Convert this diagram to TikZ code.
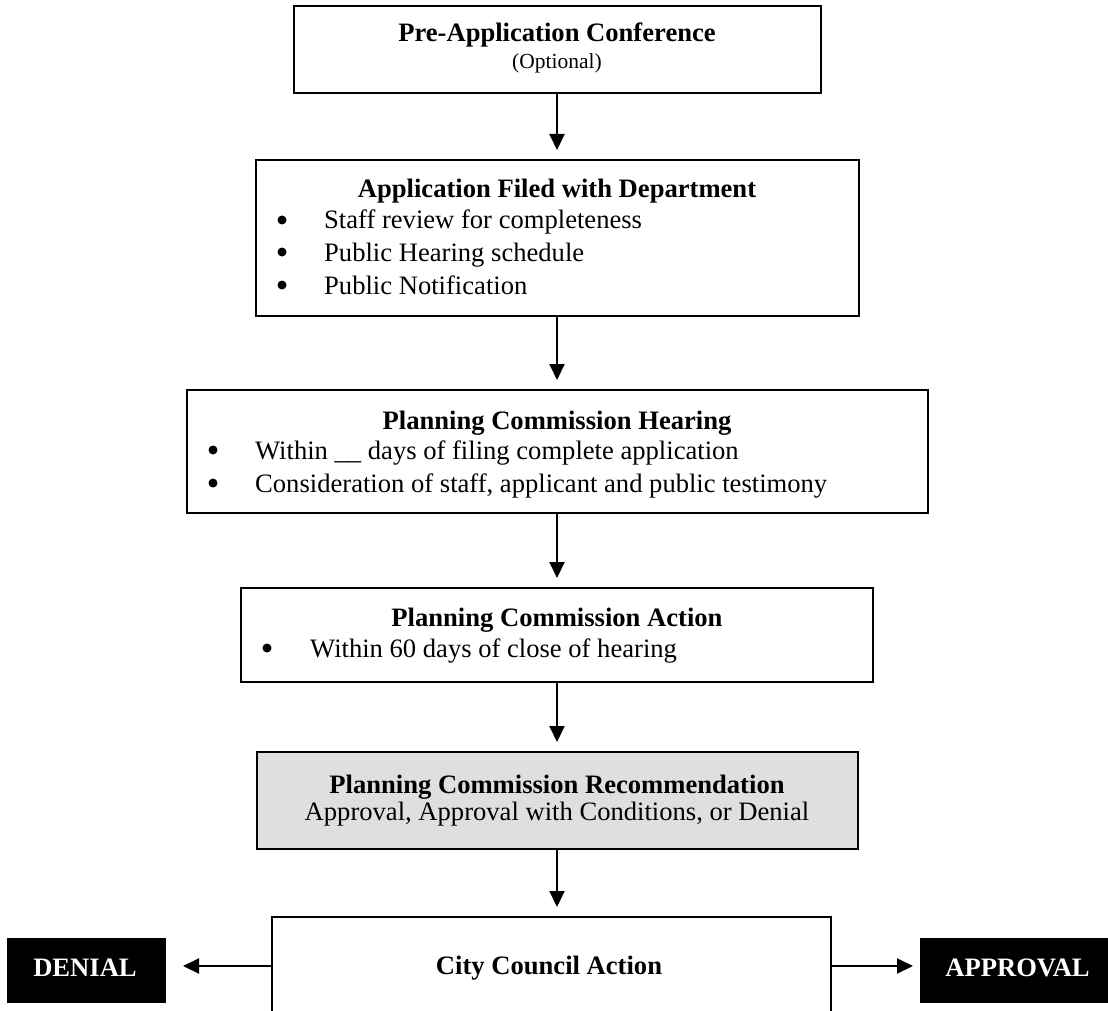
\documentclass[tikz,border=0pt]{standalone}
\usepackage{fontspec}
\setmainfont{Liberation Serif}
\usetikzlibrary{arrows.meta}
\definecolor{boxgray}{HTML}{DFDFDF}
\tikzset{
  box/.style={draw=black, line width=2pt, inner sep=0pt, outer sep=0pt},
  blackbox/.style={fill=black, draw=black, inner sep=0pt, outer sep=0pt},
  arr/.style={line width=2pt, -{Triangle[width=15pt,length=16pt]}, shorten >=10pt},
  ttl/.style={font=\fontsize{26.6}{31}\selectfont\bfseries, anchor=base, inner sep=0pt},
  txt/.style={font=\fontsize{26.6}{31}\selectfont, anchor=base west, inner sep=0pt},
  ctxt/.style={font=\fontsize{26.6}{31}\selectfont, anchor=base, inner sep=0pt},
  bul/.style={circle, fill=black, inner sep=0pt, minimum size=9pt},
}
\begin{document}
\begin{tikzpicture}[x=1pt,y=-1pt]
\path[clip] (0,0) rectangle (1108,1011);
\fill[white] (0,0) rectangle (1108,1011);
% boxes
\node[box, minimum width=527pt, minimum height=87pt] (b1) at (557,49.5) {};
\node[box, minimum width=603pt, minimum height=156pt] (b2) at (557,238) {};
\node[box, minimum width=741pt, minimum height=123pt] (b3) at (557,451.5) {};
\node[box, minimum width=632pt, minimum height=94pt] (b4) at (557,635) {};
\node[box, fill=boxgray, minimum width=601pt, minimum height=97pt] (b5) at (557,800.5) {};
\node[box, minimum width=559pt, minimum height=116pt] (b6) at (551,975) {};
\node[blackbox, minimum width=158pt, minimum height=64pt] (dn) at (86,970) {};
\node[blackbox, minimum width=195pt, minimum height=64pt] (ap) at (1017.5,970) {};
\coordinate (la) at (183,966);
\coordinate (ra) at (913,966);
% texts
\node[ttl] (t1) at (557,42) {Pre-Application Conference};
\node[ctxt, font=\fontsize{21.5}{25}\selectfont] (t1s) at (557,69) {(Optional)};
\node[ttl] (t2) at (557,197) {Application Filed with Department};
\node[bul] (b2a) at (282,220) {};
\node[txt] (t2a) at (324,229) {Staff review for completeness};
\node[bul] (b2b) at (282,252) {};
\node[txt] (t2b) at (324,261) {Public Hearing schedule};
\node[bul] (b2c) at (282,285) {};
\node[txt] (t2c) at (324,294) {Public Notification};
\node[ttl] (t3) at (557,429) {Planning Commission Hearing};
\node[bul] (b3a) at (213,450) {};
\node[txt] (t3a) at (255,459) {Within \_\_ days of filing complete application};
\node[bul] (b3b) at (213,483) {};
\node[txt] (t3b) at (255,492) {Consideration of staff, applicant and public testimony};
\node[ttl] (t4) at (557,626) {Planning Commission Action};
\node[bul] (b4a) at (267,648) {};
\node[txt] (t4a) at (310,657) {Within 60 days of close of hearing};
\node[ttl] (t5) at (557,793) {Planning Commission Recommendation};
\node[ctxt] (t5s) at (557,820) {Approval, Approval with Conditions, or Denial};
\node[ttl] (t6) at (549,974) {City Council Action};
\node[ttl, text=white] (tdn) at (85,976) {DENIAL};
\node[ttl, text=white] (tap) at (1017.5,976) {APPROVAL};
% connectors
\draw[arr] (b1.south) -- (b2.north);
\draw[arr] (b2.south) -- (b3.north);
\draw[arr] (b3.south) -- (b4.north);
\draw[arr] (b4.south) -- (b5.north);
\draw[arr] (b5.south) -- (b5.south |- b6.north);
\draw[arr, shorten >=0pt] (b6.west |- la) -- (la);
\draw[arr, shorten >=0pt] (b6.east |- ra) -- (ra);
\end{tikzpicture}
\end{document}
